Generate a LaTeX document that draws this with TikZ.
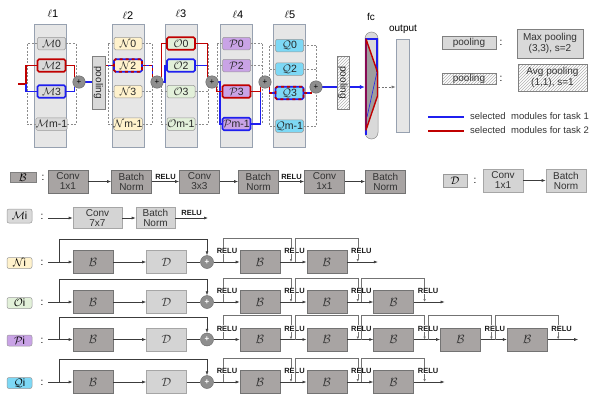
\documentclass[tikz,border=0pt]{standalone}
\usepackage{fontspec}
\setmainfont{Liberation Sans}
\usetikzlibrary{arrows.meta,patterns}
\newcommand\myfs[1]{\fontsize{#1}{#1}\selectfont}
\definecolor{colfill}{HTML}{E6E6E6}
\definecolor{colborder}{HTML}{97A1B0}
\definecolor{tone}{HTML}{1F1FEF}
\definecolor{ttwo}{HTML}{C00000}
\definecolor{mfill}{HTML}{D9D9D9}
\definecolor{nfill}{HTML}{FFF2CC}
\definecolor{ofill}{HTML}{E2F0D9}
\definecolor{pfill}{HTML}{C9A3E6}
\definecolor{qfill}{HTML}{7DD8F5}
\definecolor{bfill}{HTML}{A8A4A3}
\definecolor{dfill}{HTML}{D4D4D4}
\definecolor{cfill}{HTML}{8E8E8E}
\definecolor{lnc}{HTML}{3C3C3C}
\pgfdeclarelayer{back}
\pgfdeclarelayer{mid}
\pgfsetlayers{back,mid,main}
% residual row: #1 prefix, #2 y, #3 number of residual blocks, #4 label, #5 fill
\newcommand\myresrow[5]{%
  \node[rlab, fill=#5] (#1lab) at (19.5,#2+1) {#4};
  \node[colon] (#1colon) at (42,#2+1) {:};
  \coordinate (#1in) at (48,#2);
  \coordinate (#1br) at (59,#2);
  \node[blk, font=\myfs{12}] (#1b) at (93,#2) {$\mathcal{B}$};
  \node[lgt, font=\myfs{12}] (#1d) at (166.5,#2) {$\mathcal{D}$};
  \node[sumr] (#1c) at (207,#2) {+};
  \draw[con] (#1in) -- (#1b);
  \draw[con] (#1br) -- ++(0,-22.5) -| (#1c.north);
  \draw[con] (#1b) -- (#1d);
  \draw[ln] (#1d) -- (#1c);
  \foreach \k in {1,...,#3} {
    \pgfmathsetmacro\bx{260+66.8*(\k-1)}
    \node[blk, font=\myfs{12}] (#1r\k) at (\bx,#2) {$\mathcal{B}$};
  }
  \draw[con] (#1c) -- (#1r1);
  \foreach \k in {2,...,#3} {
    \pgfmathtruncatemacro\kp{\k-1}
    \draw[con] (#1r\kp) -- (#1r\k);
  }
  \pgfmathsetmacro\elast{291+66.8*(#3-1)+20}
  \coordinate (#1out) at (\elast,#2);
  \draw[con] (#1r#3) -- (#1out);
  \foreach \k in {1,...,#3} {
    \pgfmathsetmacro\sx{\k==1 ? 223 : 228+66.8*(\k-1)}
    \pgfmathsetmacro\ex{291+66.8*(\k-1)}
    \draw[skp] (\sx,#2) -- (\sx,#2-24) -- (\ex,#2-24) -- (\ex,#2);
    \node[relu] (#1relu\k) at (\ex+3.5,#2-11) {RELU};
  }
  \node[relu] (#1relu0) at (227,#2-11) {RELU};
}
\begin{document}
\begin{tikzpicture}[x=1pt,y=-1pt,
  col/.style={draw=colborder, fill=colfill, line width=0.7pt, minimum width=32pt, minimum height=123pt, inner sep=0pt},
  ttl/.style={font=\myfs{11}, inner sep=0pt},
  mod/.style={draw=black!40, line width=0.5pt, rounded corners=1.5pt, minimum width=28pt, minimum height=12.5pt, inner sep=0pt, font=\myfs{10.5}, text=black!85},
  tA/.style={draw=tone, line width=1.6pt},
  tB/.style={draw=ttwo, line width=1.6pt},
  tAB/.style={draw=ttwo, line width=1.6pt, dash pattern=on 3pt off 3pt},
  pA/.style={draw=tone, line width=1.6pt},
  pB/.style={draw=ttwo, line width=1.6pt},
  pBd/.style={draw=ttwo, line width=1.6pt, dash pattern=on 3pt off 3pt},
  sumt/.style={circle, fill=cfill, draw=black!60, line width=0.4pt, minimum size=12.5pt, inner sep=0pt, font=\myfs{8}},
  brk/.style={draw=black!45, line width=0.5pt, dash pattern=on 2pt off 1.5pt},
  poolv/.style={draw=black!50, line width=0.5pt, minimum width=53pt, minimum height=13pt, inner sep=0pt, rotate=-90, font=\myfs{10}, text=black!85},
  hatchfill/.style={preaction={fill=white}, pattern=north east lines, pattern color=black!30},
  lbox/.style={draw=black!50, line width=0.5pt, inner sep=0pt, align=center, font=\myfs{10}, text=black!80},
  txt/.style={font=\myfs{9.5}, text=black!80, inner sep=0pt},
  blk/.style={draw=black!55, fill=bfill, line width=0.6pt, minimum width=40pt, minimum height=23pt, inner sep=0pt, align=center, font=\myfs{10}, text=black!80},
  lgt/.style={blk, fill=dfill, draw=black!35},
  con/.style={draw=lnc, line width=0.6pt, -{Latex[length=4pt,width=3pt]}},
  ln/.style={draw=lnc, line width=0.6pt},
  skp/.style={draw=black!55, line width=0.6pt, -{Latex[length=3pt,width=2.6pt]}},
  relu/.style={font=\bfseries\myfs{7.5}, inner sep=0.4pt, fill=white, text=black!90},
  sumr/.style={circle, fill=cfill, draw=black!60, line width=0.4pt, minimum size=13pt, inner sep=0pt, font=\bfseries\myfs{8}, text=white},
  rlab/.style={draw=black!40, line width=0.5pt, rounded corners=2pt, minimum width=25pt, minimum height=11pt, inner sep=0pt, font=\myfs{10.5}},
  colon/.style={font=\myfs{10}, inner sep=0pt}
]
\useasboundingbox (0,0) rectangle (598,402);

% ---------------- top: columns ----------------
\begin{pgfonlayer}{back}
\node[col] (L1) at (50.5,85.5) {};
\node[col] (L2) at (128,85.5) {};
\node[col] (L3) at (181,85.5) {};
\node[col] (L4) at (236.5,85.5) {};
\node[col] (L5) at (289.5,85.5) {};
\end{pgfonlayer}
\node[ttl] (t1) at (53,14) {$\ell$1};
\node[ttl] (t2) at (128,16) {$\ell$2};
\node[ttl] (t3) at (181,14) {$\ell$3};
\node[ttl] (t4) at (238,15) {$\ell$4};
\node[ttl] (t5) at (290,15) {$\ell$5};

% modules
\node[mod, fill=mfill] (m0) at (51.5,43.5) {$\mathcal{M}$0};
\node[mod, fill=mfill, tB] (m2) at (51.5,65.5) {$\mathcal{M}$2};
\node[mod, fill=mfill, tA] (m3) at (51.5,91.5) {$\mathcal{M}$3};
\node[mod, fill=mfill] (mm) at (51.5,124) {$\mathcal{M}$m-1};

\node[mod, fill=nfill] (n0) at (128,43.5) {$\mathcal{N}$0};
\node[mod, fill=nfill, tA] (n2) at (128,65.5) {$\mathcal{N}$2};
\node[mod, tAB] (n2s) at (128,65.5) {};
\node[mod, fill=nfill] (n3) at (128,91.5) {$\mathcal{N}$3};
\node[mod, fill=nfill] (nm) at (128,124) {$\mathcal{N}$m-1};

\node[mod, fill=ofill, tB] (o0) at (181,43.5) {$\mathcal{O}$0};
\node[mod, fill=ofill, tA] (o2) at (181,65.5) {$\mathcal{O}$2};
\node[mod, fill=ofill] (o3) at (181,91.5) {$\mathcal{O}$3};
\node[mod, fill=ofill] (om) at (181,124) {$\mathcal{O}$m-1};

\node[mod, fill=pfill] (p0) at (236.5,43.5) {$\mathcal{P}$0};
\node[mod, fill=pfill] (p2) at (236.5,65.5) {$\mathcal{P}$2};
\node[mod, fill=pfill, tB] (p3) at (236.5,91.5) {$\mathcal{P}$3};
\node[mod, fill=pfill, tA] (pm) at (236.5,124) {$\mathcal{P}$m-1};

\node[mod, fill=qfill] (q0) at (289.5,45.5) {$\mathcal{Q}$0};
\node[mod, fill=qfill] (q2) at (289.5,69) {$\mathcal{Q}$2};
\node[mod, fill=qfill, tA] (q3) at (289.5,93) {$\mathcal{Q}$3};
\node[mod, tAB] (q3s) at (289.5,93) {};
\node[mod, fill=qfill] (qm) at (289.5,126) {$\mathcal{Q}$m-1};

% sums and pooling
\node[sumt] (c1) at (79,82) {+};
\node[sumt] (c2) at (157,82) {+};
\node[sumt] (c3) at (212,82) {+};
\node[sumt] (c4) at (265,82) {+};
\node[sumt] (c5) at (316,87) {+};
\node[poolv, fill=mfill] (pool1) at (98.5,82.5) {pooling};
\node[poolv, hatchfill, minimum height=12pt] (pool2) at (343,82.5) {pooling};

% fc and output
\node[draw=black!45, fill=mfill, line width=0.5pt, rounded corners=6.5pt, minimum width=13pt, minimum height=107pt, inner sep=0pt] (fc) at (371.5,85.5) {};
\fill[black!38] (366,39) -- (377.5,72) -- (377.5,96) -- (366,130) -- cycle;
\draw[tone, line width=1.4pt] (366,135) -- (366,39) -- (377,39) -- (377,72);
\draw[tone, line width=0.6pt] (377,72) -- (367,117);
\draw[ttwo, line width=1.4pt, line join=round] (366,130) -- (366,39) -- (377.5,72) -- (377.5,96) -- cycle;
\node[ttl, font=\myfs{10}] (fct) at (371,17) {fc};
\node[draw=colborder, fill=colfill, line width=0.7pt, minimum width=13pt, minimum height=93pt, inner sep=0pt] (outp) at (402.5,85.5) {};
\node[ttl, font=\myfs{10}] (outt) at (403,29) {output};

% brackets and paths
\coordinate (bl1) at (27,0);  \coordinate (br1) at (76,0);
\coordinate (bl2) at (108,0); \coordinate (br2) at (152,0);
\coordinate (bl3) at (161,0); \coordinate (br3) at (208,0);
\coordinate (bl4) at (217,0); \coordinate (br4) at (262,0);
\coordinate (bl5) at (269,0); \coordinate (br5) at (316,0);
\coordinate (inl) at (18,84); \coordinate (spl) at (26,84);
\begin{pgfonlayer}{mid}
\draw[brk] (m0.west -| bl1) -- (mm.west -| bl1);
\draw[brk] (m0.east -| br1) -- (mm.east -| br1);
\foreach \b in {m0,mm} {\draw[brk] (\b.west) -- (\b.west -| bl1); \draw[brk] (\b.east) -- (\b.east -| br1);}
\draw[brk] (n0.west -| bl2) -- (nm.west -| bl2);
\draw[brk] (n0.east -| br2) -- (nm.east -| br2);
\foreach \b in {n0,n3,nm} {\draw[brk] (\b.west) -- (\b.west -| bl2); \draw[brk] (\b.east) -- (\b.east -| br2);}
\draw[brk] (o0.west -| bl3) -- (om.west -| bl3);
\draw[brk] (o0.east -| br3) -- (om.east -| br3);
\foreach \b in {o3,om} {\draw[brk] (\b.west) -- (\b.west -| bl3); \draw[brk] (\b.east) -- (\b.east -| br3);}
\draw[brk] (p0.west -| bl4) -- (pm.west -| bl4);
\draw[brk] (p0.east -| br4) -- (pm.east -| br4);
\foreach \b in {p0,p2} {\draw[brk] (\b.west) -- (\b.west -| bl4); \draw[brk] (\b.east) -- (\b.east -| br4);}
\draw[brk] (q0.west -| bl5) -- (qm.west -| bl5);
\draw[brk] (q0.east -| br5) -- (qm.east -| br5);
\foreach \b in {q0,q2,qm} {\draw[brk] (\b.west) -- (\b.west -| bl5); \draw[brk] (\b.east) -- (\b.east -| br5);}

% layer 1
\draw[pB] (inl) -- (spl) |- (m2.west);
\draw[pA] (spl) |- (m3.west);
\draw[pB] (m2.east) -| (c1.north west);
\draw[pA] (m3.east) -| (c1.south west);
\draw[pA] (c1.east) -- (pool1.north |- c1.east);
\draw[pA] (pool1.south |- c1.east) -- ++(3,0) |- (n2.west);
\draw[pBd] (pool1.south |- c1.east) -- ++(3,0) |- (n2.west);
% layer 2
\draw[pA] (n2.east) -| (c2.north west);
\draw[pBd] (n2.east) -| (c2.north west);
\draw[pA] (c2.east) -- ++(1.5,0) |- (o2.west);
\draw[pB] (c2.north east) |- (o0.west);
% layer 3
\draw[pA] (o2.east) -| (c3.north west);
\draw[pB] (o0.east) -| (c3.north west);
\draw[pA] (c3.east) -- ++(1.5,0) |- (pm.west);
\draw[pB] (c3.south east) |- (p3.west);
% layer 4
\draw[pA] (pm.east) -| (c4.south west);
\draw[pB] (p3.east) -| (c4.south west);
\draw[pA] (c4.south east) |- (q3.west);
\draw[pBd] (c4.south east) |- (q3.west);
% layer 5
\draw[pA] (q3.east) -| (c5.south west);
\draw[pBd] (q3.east) -| (c5.south west);
\draw[pA] (c5.east) -- (pool2.north |- c5.east);
\draw[pA, -{Latex[length=5pt,width=4.5pt]}] (pool2.south |- c5.east) -- (fc.west |- c5.east);
\draw[black!55, line width=0.6pt, dash pattern=on 2pt off 1.5pt, -{Latex[length=4pt,width=3pt]}] (fc.east |- c5.east) -- (outp.west |- c5.east);
\end{pgfonlayer}

% ---------------- legend ----------------
\node[lbox, fill=mfill, minimum width=54pt, minimum height=13pt] (lp1) at (469,42.5) {pooling};
\node[colon] (lc1) at (501,43) {:};
\node[lbox, fill=mfill, minimum width=66pt, minimum height=29pt] (mp) at (550,43.5) {Max pooling\\[1pt](3,3), s=2};
\node[lbox, hatchfill, minimum width=54pt, minimum height=11pt] (lp2) at (469,78.5) {pooling};
\node[colon] (lc2) at (501,79) {:};
\node[lbox, hatchfill, minimum width=69pt, minimum height=27pt] (ap) at (552.5,77.5) {Avg pooling\\[1pt](1,1), s=1};
\coordinate (la1) at (428,117); \coordinate (la2) at (464,117);
\coordinate (lb1) at (428,131); \coordinate (lb2) at (464,131);
\draw[pA] (la1) -- (la2);
\draw[pB] (lb1) -- (lb2);
\node[txt, anchor=west] (lt1) at (470,116.5) {selected\hspace{3pt} modules for task 1};
\node[txt, anchor=west] (lt2) at (470,130.5) {selected\hspace{3pt} modules for task 2};

% ---------------- B definition ----------------
\node[rlab, fill=bfill, rounded corners=0pt, minimum width=26pt, minimum height=10pt, draw=black!50, font=\myfs{11}] (Bl) at (23,177.5) {$\mathcal{B}$};
\node[colon] (Bc) at (43,178) {:};
\node[blk] (b1) at (68,181.5) {Conv\\1x1};
\node[blk] (b2) at (131.5,181.5) {Batch\\Norm};
\node[blk] (b3) at (199.5,181.5) {Conv\\3x3};
\node[blk] (b4) at (258.5,181.5) {Batch\\Norm};
\node[blk] (b5) at (324.5,181.5) {Conv\\1x1};
\node[blk] (b6) at (385.5,181.5) {Batch\\Norm};
\draw[con] (b1) -- (b2);
\draw[con] (b2) -- node[relu, above=1.5pt] (br1t) {RELU} (b3);
\draw[con] (b3) -- (b4);
\draw[con] (b4) -- node[relu, above=1.5pt] (br2t) {RELU} (b5);
\draw[con] (b5) -- (b6);

% D definition
\node[rlab, fill=dfill, rounded corners=0pt, minimum width=24pt, minimum height=13pt, font=\myfs{11}] (Dl) at (455,180.5) {$\mathcal{D}$};
\node[colon] (Dc) at (475,181) {:};
\node[lgt] (d1) at (503,180.5) {Conv\\1x1};
\node[lgt] (d2) at (566,180.5) {Batch\\Norm};
\draw[con] (d1) -- (d2);

% Mi definition
\node[rlab, fill=mfill, minimum height=14pt] (Mil) at (19.5,216) {$\mathcal{M}$i};
\node[colon] (Mic) at (42,217) {:};
\coordinate (mis) at (48,218);
\node[lgt, minimum width=49pt, minimum height=21pt] (mi1) at (97.5,218) {Conv\\7x7};
\node[lgt, minimum width=39pt, minimum height=21pt] (mi2) at (155.5,218) {Batch\\Norm};
\coordinate (mie) at (208,218);
\draw[con] (mis) -- (mi1);
\draw[con] (mi1) -- (mi2);
\draw[con] (mi2) -- node[relu, above=1.5pt] (mir) {RELU} (mie);

% residual rows
\myresrow{rn}{262}{2}{$\mathcal{N}$i}{nfill}
\myresrow{ro}{302}{3}{$\mathcal{O}$i}{ofill}
\myresrow{rp}{339.5}{5}{$\mathcal{P}$i}{pfill}
\myresrow{rq}{382}{3}{$\mathcal{Q}$i}{qfill}
\end{tikzpicture}
\end{document}
